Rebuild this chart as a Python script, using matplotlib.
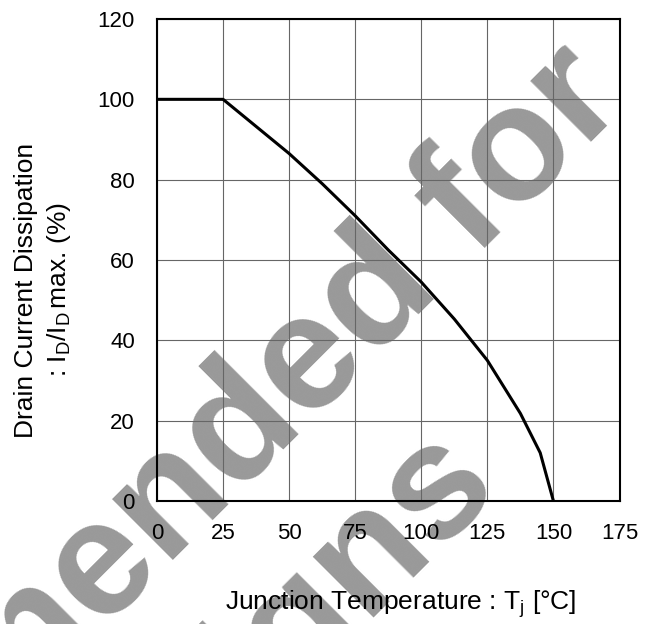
import matplotlib
matplotlib.use('Agg')
import matplotlib.pyplot as plt

# derating curve
temp_c   = [0, 25, 50, 62.5, 75, 87.5, 100, 112.5, 125, 137.5, 145, 150]
id_ratio = [100, 100, 86.5, 79, 71, 62.5, 54.5, 45.3, 35, 21.8, 12, 0]

x_ticks = [0, 25, 50, 75, 100, 125, 150, 175]
y_ticks = [0, 20, 40, 60, 80, 100, 120]

watermark = ["Not Recommended for", "New Designs"]

plt.rcParams['font.family'] = ['Liberation Sans', 'DejaVu Sans']
plt.rcParams['mathtext.fontset'] = 'custom'
plt.rcParams['mathtext.rm'] = 'Liberation Sans'
plt.rcParams['mathtext.it'] = 'Liberation Sans:italic'

W, H = 651, 624
def fx(px): return px / W
def fy(py): return 1 - py / H

fig = plt.figure(figsize=(W / 100, H / 100), dpi=100)

# ── watermark (behind everything) ─────────────────────
wm = dict(rotation=45, rotation_mode='anchor', ha='right', va='baseline',
          fontsize=118, fontweight='bold', color='#999999', zorder=-1)
fig.text(fx(629), fy(104), watermark[0], **wm)
fig.text(fx(502), fy(490), watermark[1], **wm)

# ── axes ──────────────────────────────────────────────
ax = fig.add_axes([fx(157), fy(501), (619.5 - 157) / W, (501 - 19) / H])
ax.set_facecolor('none')
ax.plot(temp_c, id_ratio, color='black', lw=2.2, zorder=3)
ax.set_xlim(0, 175)
ax.set_ylim(0, 120)
ax.set_xticks(x_ticks)
ax.set_yticks(y_ticks)
ax.grid(True, color='#666666', lw=0.8)
ax.tick_params(length=0, labelsize=16, pad=16)
for s in ax.spines.values():
    s.set_linewidth(1.5)

# axis labels
fig.text(fx(401), fy(610), r'Junction Temperature : T$_\mathrm{j}$ [°C]',
         ha='center', va='baseline', fontsize=19)
fig.text(fx(33), fy(290), 'Drain Current Dissipation', rotation=90,
         rotation_mode='anchor', ha='center', va='baseline', fontsize=19)
fig.text(fx(66), fy(290), r': $\mathrm{I_D/I_D}\,$max. (%)', rotation=90,
         rotation_mode='anchor', ha='center', va='baseline', fontsize=19)

fig.savefig('out.png', dpi=100)
plt.close(fig)
